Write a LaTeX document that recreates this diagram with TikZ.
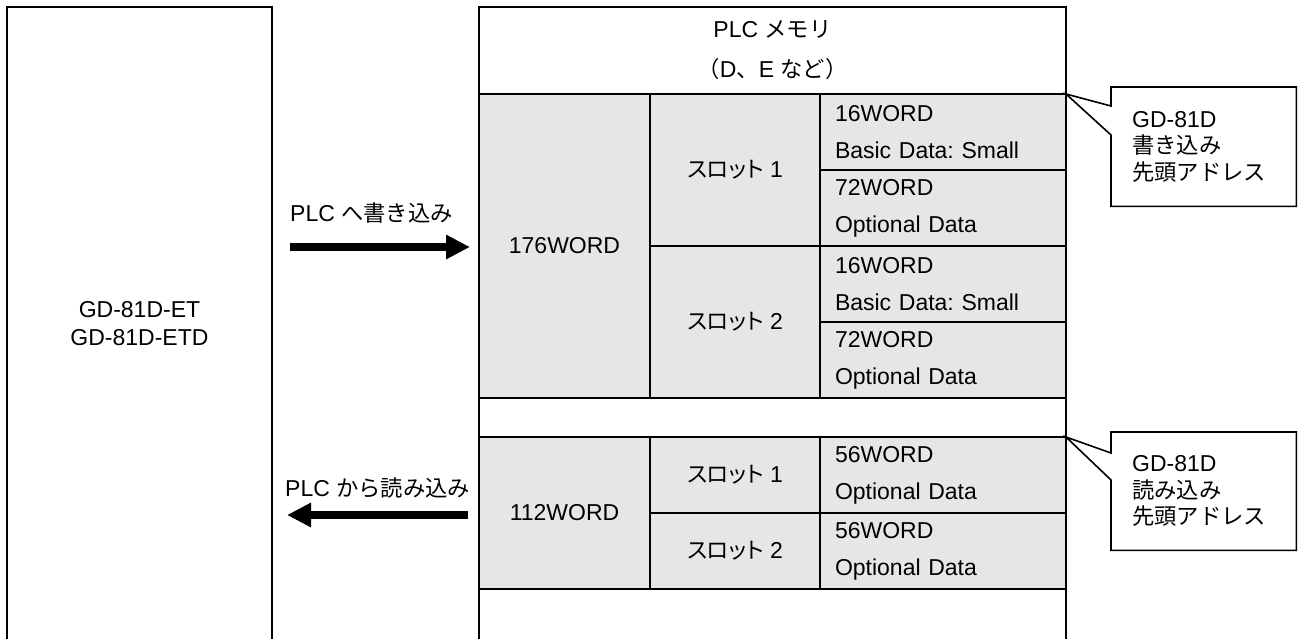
\documentclass[tikz,border=0pt]{standalone}
\usepackage{fontspec}
\setmainfont{Liberation Sans}
\newfontfamily\jp[Scale=0.97]{Noto Sans CJK JP}
\newfontfamily\jpslot[Scale=0.97, RawFeature=+palt]{Noto Sans CJK JP}
\usepackage{xcolor}
\usepackage{tikz}
\usetikzlibrary{arrows.meta, positioning, calc}
\definecolor{cellgray}{RGB}{230,230,230}
\frenchspacing

\begin{document}
\begin{tikzpicture}[x=1pt, y=-1pt,
            every node/.style={font=\fontsize{23}{28}\selectfont},
            frame/.style={draw, line width=1.6pt, anchor=north west, inner sep=0pt, outer sep=0pt},
            wordcell/.style={frame, fill=cellgray, text centered, minimum width=171pt},
            slotcell/.style={frame, fill=cellgray, text centered, minimum width=170pt},
            datacell/.style={frame, fill=cellgray, minimum width=246pt, minimum height=76pt, text width=216pt, inner xsep=15pt, align=left, font=\fontsize{23}{37}\selectfont},
            note/.style={anchor=north west, minimum width=185pt, text width=143pt, inner xsep=21pt, inner ysep=0pt, align=left, font=\fontsize{23}{26.5}\selectfont},
            outline/.style={draw, line width=1.6pt, line join=miter},
            arrow/.style={line width=8pt, -{Triangle[length=24pt, width=23pt]}}]

            \useasboundingbox (0,0) rectangle (1306,638);
            \clip (0,0) rectangle (1306,638);

            % Frames (open at the bottom)
            \node (dev) [frame, minimum width=265pt, minimum height=660pt] at (7,7) {};
            \node (mem) [frame, minimum width=587pt, minimum height=660pt] at (479,7) {};
            \node (dev-label) [align=center] at (139.5,324) {GD-81D-ET\\GD-81D-ETD};
            \node (mem-head) [align=center, font=\fontsize{23}{40}\selectfont] at (772.5,50.5) {PLC {\jp メモリ}\\{\jp （}D{\jp 、}E {\jp など）}};

            % Write area
            \node (w176) [wordcell, minimum height=304pt] at (479,94) {176WORD};
            \node (s1a) [slotcell, minimum height=152pt] at (w176.north east) {{\jpslot スロット} 1};
            \node (s2a) [slotcell, minimum height=152pt] at (s1a.south west) {{\jpslot スロット} 2};
            \node (c1) [datacell] at (s1a.north east) {16WORD\\Basic Data: Small};
            \node (c2) [datacell] at (c1.south west) {72WORD\\Optional Data};
            \node (c3) [datacell] at (c2.south west) {16WORD\\Basic Data: Small};
            \node (c4) [datacell] at (c3.south west) {72WORD\\Optional Data};

            % Read area
            \node (w112) [wordcell, minimum height=152pt] at (479,437) {112WORD};
            \node (s1b) [slotcell, minimum height=76pt] at (w112.north east) {{\jpslot スロット} 1};
            \node (s2b) [slotcell, minimum height=76pt] at (s1b.south west) {{\jpslot スロット} 2};
            \node (c5) [datacell] at (s1b.north east) {56WORD\\Optional Data};
            \node (c6) [datacell] at (c5.south west) {56WORD\\Optional Data};

            % Callouts
            \node (wr-note) [note, minimum height=119pt] at (1111,87) {GD-81D\\{\jp 書き込み}\\{\jp 先頭アドレス}};
            \draw [outline] (wr-note.north west) -- (wr-note.north east) -- (wr-note.south east) -- (wr-note.south west)
                -- ($(wr-note.north west)+(0,48)$) -- (c1.north east) -- ($(wr-note.north west)+(0,19)$) -- cycle;
            \node (rd-note) [note, minimum height=118pt] at (1111,432) {GD-81D\\{\jp 読み込み}\\{\jp 先頭アドレス}};
            \draw [outline] (rd-note.north west) -- (rd-note.north east) -- (rd-note.south east) -- (rd-note.south west)
                -- ($(rd-note.north west)+(0,48)$) -- (c5.north east) -- ($(rd-note.north west)+(0,21)$) -- cycle;

            % Arrows
            \coordinate (wr-from) at (290,247);
            \coordinate (wr-to) at (470,247);
            \draw [arrow] (wr-from) -- (wr-to);
            \node (wr-label) [anchor=west, inner sep=0pt] at (290,213) {PLC {\jp へ書き込み}};

            \coordinate (rd-from) at (468,515);
            \coordinate (rd-to) at (287,515);
            \draw [arrow] (rd-from) -- (rd-to);
            \node (rd-label) [anchor=west, inner sep=0pt] at (285,488) {PLC {\jp から読み込み}};
        \end{tikzpicture}
\end{document}
